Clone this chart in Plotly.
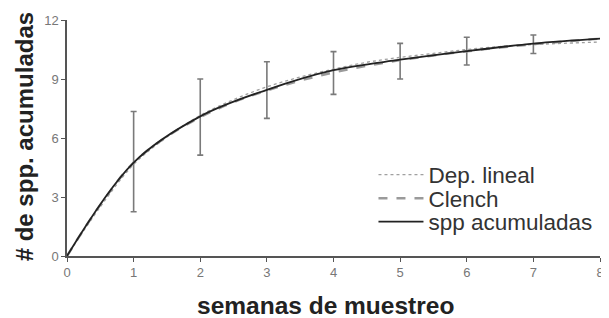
import plotly.graph_objects as go

# weeks with observed data
weeks = [0, 1, 2, 3, 4, 5, 6, 7, 8]
spp_acum = [0, 4.75, 7.1, 8.45, 9.45, 9.98, 10.42, 10.8, 11.05]
err_up = [0, 2.6, 1.9, 1.43, 0.94, 0.83, 0.7, 0.44, 0]
err_down = [0, 2.5, 1.97, 1.45, 1.23, 0.98, 0.71, 0.5, 0]

# model curves
t_model = [0, 0.5, 1, 1.5, 2, 2.5, 3, 3.5, 4, 4.5, 5, 5.5, 6, 6.5, 7, 7.5, 8]
clench = [0, 2.6, 4.75, 6.07, 7.06, 7.82, 8.42, 8.92, 9.33, 9.67, 9.96, 10.2, 10.41, 10.6, 10.77, 10.92, 11.05]
dep_lineal = [0, 2.5, 4.65, 6.05, 7.15, 7.95, 8.6, 9.1, 9.5, 9.85, 10.1, 10.3, 10.5, 10.65, 10.75, 10.82, 10.88]

x_ticks = [0, 1, 2, 3, 4, 5, 6, 7, 8]
y_ticks = [0, 3, 6, 9, 12]

FONT = "Liberation Sans, Arial, sans-serif"

# page body has an 8px margin, so the figure is 8px smaller in each direction
W, H = 601, 310
L, T, PW, PH = 59, 12, 537, 236

fig = go.Figure()

# error bars
fig.add_trace(go.Scatter(
    x=weeks[1:8], y=spp_acum[1:8], mode="markers",
    marker=dict(size=1, color="rgba(0,0,0,0)"),
    error_y=dict(type="data", symmetric=False, array=err_up[1:8], arrayminus=err_down[1:8],
                 color="#7a7a7a", thickness=1.6, width=3),
    showlegend=False, hoverinfo="skip"))

fig.add_trace(go.Scatter(
    x=t_model, y=dep_lineal, mode="lines", name="Dep. lineal", legend="legend",
    line=dict(color="#a0a0a0", width=1.3, dash="dot", shape="spline")))

fig.add_trace(go.Scatter(
    x=t_model, y=clench, mode="lines", name="Clench", legend="legend2",
    line=dict(color="#9a9a9a", width=2.5, dash="dash", shape="spline")))

fig.add_trace(go.Scatter(
    x=weeks, y=spp_acum, mode="lines", name="spp acumuladas", legend="legend3",
    line=dict(color="#222222", width=1.8, shape="spline")))

leg_common = dict(x=0.575, xanchor="left", yanchor="middle", bgcolor="rgba(0,0,0,0)",
                  font=dict(size=22.5, color="#333"), itemwidth=45)

bottom = T + PH  # plot bottom in figure px


def px_x(xp):
    return (xp - 8 - L) / PW


def px_y(yp):
    return (bottom - (yp - 8)) / PH


fig.update_layout(
    width=W, height=H,
    margin=dict(l=L, r=W - L - PW, t=T, b=H - T - PH),
    paper_bgcolor="white", plot_bgcolor="white",
    font=dict(family=FONT, color="#222"),
    legend=dict(y=px_y(175), **leg_common),
    legend2=dict(y=px_y(198.5), **leg_common),
    legend3=dict(y=px_y(222), **leg_common),
    xaxis=dict(range=[0, 8], tickvals=x_ticks, showgrid=False, zeroline=False,
               showline=True, linecolor="#555", linewidth=1.5,
               ticks="outside", ticklen=4, tickcolor="#555",
               tickfont=dict(size=13, color="#777")),
    yaxis=dict(range=[0, 12], tickvals=y_ticks, showgrid=False, zeroline=False,
               showline=True, linecolor="#555", linewidth=1.5,
               ticks="outside", ticklen=4, tickcolor="#555",
               tickfont=dict(size=13, color="#777")),
    annotations=[
        dict(text="<b>semanas de muestreo</b>", xref="paper", yref="paper",
             x=px_x(327), y=px_y(305), xanchor="center", yanchor="middle",
             showarrow=False, font=dict(size=24.5, color="#222")),
        dict(text="<b># de spp. acumuladas</b>", xref="paper", yref="paper",
             x=px_x(24), y=px_y(137), xanchor="center", yanchor="middle",
             textangle=-90, showarrow=False, font=dict(size=24, color="#222")),
    ],
)

fig.write_html("out.html")
